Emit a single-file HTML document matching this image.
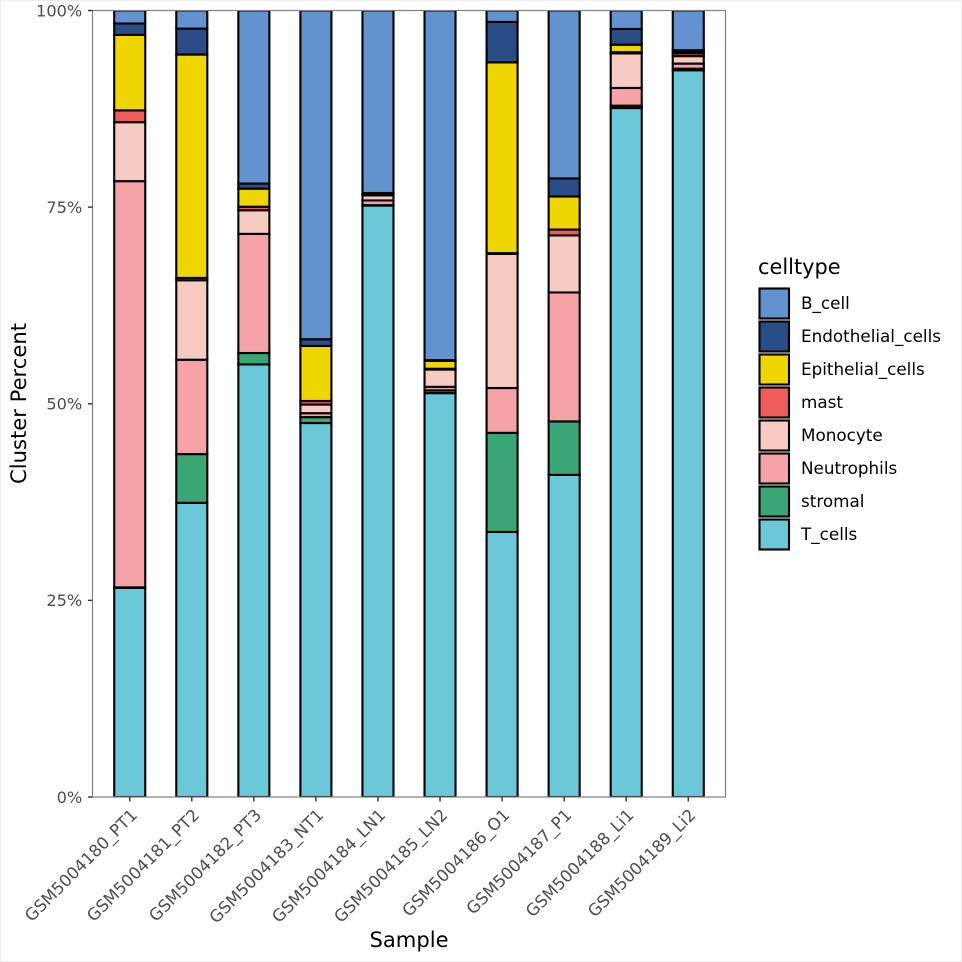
<!DOCTYPE html>
<html lang="en">
<head>
<meta charset="utf-8">
<title>Cluster percent by sample</title>
<style>
html,body{margin:0;padding:0;background:#fff;width:962px;height:962px;overflow:hidden}
svg{display:block;font-family:"DejaVu Sans",sans-serif}
</style>
</head>
<body>
<svg id="chart" xmlns="http://www.w3.org/2000/svg" width="962" height="962" viewBox="0 0 962 962">
  <defs><clipPath id="panel-clip"><rect x="92.5" y="10.5" width="633" height="786.5"/></clipPath></defs>
  <rect x="0.5" y="0.5" width="961" height="961" fill="#fff" stroke="#ececec" stroke-width="1"/>
  <rect x="92.5" y="10.5" width="633" height="786.5" fill="#fff"/>
  <g id="bars" clip-path="url(#panel-clip)"></g>
  <rect x="92.5" y="10.5" width="633" height="786.5" fill="none" stroke="#7f7f7f" stroke-width="1.2"/>
  <g id="yaxis"></g>
  <g id="xaxis"></g>
  <text x="409" y="947" font-size="21.1" text-anchor="middle" fill="#000">Sample</text>
  <text transform="translate(26 403.5) rotate(-90)" font-size="21.1" text-anchor="middle" fill="#000">Cluster Percent</text>
  <g id="legend">
    <text x="758" y="274" font-size="20.9" fill="#000">celltype</text>
  </g>
</svg>
<script>
const samples = ["GSM5004180_PT1","GSM5004181_PT2","GSM5004182_PT3","GSM5004183_NT1","GSM5004184_LN1","GSM5004185_LN2","GSM5004186_O1","GSM5004187_P1","GSM5004188_Li1","GSM5004189_Li2"];
const yTickValues = [0,25,50,75,100];
const cellTypes = ["B_cell","Endothelial_cells","Epithelial_cells","mast","Monocyte","Neutrophils","stromal","T_cells"];
const cellColors = ["#6393CE","#2A4C87","#EFD600","#EF5A5B","#F7CBC2","#F5A3A6","#3AA675","#6BC8D9"];
const tCells = [26.6,37.4,55.0,47.55,75.2,51.35,33.7,40.95,87.6,92.4];
const stromal = [0.05,6.2,1.45,0.75,0.05,0.35,12.6,6.8,0.3,0.2];
const neutrophils = [51.65,12.0,15.15,0.5,0.6,0.45,5.7,16.4,2.25,0.65];
const monocyte = [7.5,10.1,3.0,1.1,0.65,2.2,17.05,7.25,4.4,0.95];
const mast = [1.5,0.3,0.45,0.45,0.1,0.1,0.1,0.75,0.15,0.35];
const epithelial = [9.6,28.4,2.3,7.0,0.05,1.0,24.25,4.2,0.95,0.25];
const endothelial = [1.45,3.3,0.65,0.85,0.15,0.1,5.15,2.3,2.0,0.15];
const bCell = [1.65,2.3,22.0,41.8,23.2,44.45,1.45,21.35,2.35,5.05];

const seriesValues = [bCell,endothelial,epithelial,mast,monocyte,neutrophils,stromal,tCells];
const SVG_NS = "http://www.w3.org/2000/svg";

function xScale(index){
  const left = 92.5, width = 633, count = samples.length;
  return left + (index + 0.6) * width / (count + 0.2);
}
function bandWidth(){
  return 0.5 * 633 / (samples.length + 0.2);
}
function yScale(pct){
  return 797 - pct * 7.865;
}
function make(tag, attrs){
  const el = document.createElementNS(SVG_NS, tag);
  for (const k in attrs) el.setAttribute(k, attrs[k]);
  return el;
}

const barsGroup = document.getElementById("bars");
samples.forEach(function(sample, i){
  const group = make("g", {});
  
  
  let cumulative = 0;
  for (let s = seriesValues.length - 1; s >= 0; s--) {
    const v = seriesValues[s][i];
    const y0 = yScale(cumulative);
    const y1 = yScale(cumulative + v);
    cumulative += v;
    const rect = make("rect", {
      x: xScale(i) - bandWidth() / 2,
      y: y1,
      width: bandWidth(),
      height: y0 - y1,
      fill: cellColors[s],
      stroke: "#000",
      "stroke-width": 2.1
    });
    
    
    group.appendChild(rect);
  }
  barsGroup.appendChild(group);
});

const yAxis = document.getElementById("yaxis");
yTickValues.forEach(function(t){
  const y = yScale(t);
  const tick = make("line", {x1: 88, x2: 92.5, y1: y, y2: y, stroke: "#333", "stroke-width": 1.4});
  
  
  yAxis.appendChild(tick);
  const label = make("text", {x: 82.3, y: y + 5.8, "text-anchor": "end", "font-size": 16.2, fill: "#4d4d4d"});
  
  
  label.textContent = t + "%";
  yAxis.appendChild(label);
});

const xAxis = document.getElementById("xaxis");
samples.forEach(function(sample, i){
  const x = xScale(i);
  const tick = make("line", {x1: x, x2: x, y1: 797, y2: 801.5, stroke: "#333", "stroke-width": 1.4});
  
  
  xAxis.appendChild(tick);
  const label = make("text", {
    transform: "translate(" + (x + 8.5) + " 816) rotate(-45)",
    "text-anchor": "end",
    "font-size": 16.6,
    fill: "#4d4d4d"
  });
  
  
  label.textContent = sample;
  xAxis.appendChild(label);
});

const legend = document.getElementById("legend");
cellTypes.forEach(function(name, i){
  const cy = 303.5 + i * 33;
  const entry = make("g", {});
  
  
  const key = make("rect", {x: 759.5, y: cy - 15, width: 29.5, height: 30, fill: cellColors[i], stroke: "#000", "stroke-width": 2.1});
  
  
  entry.appendChild(key);
  const label = make("text", {x: 801, y: cy + 5.5, "font-size": 16.8, fill: "#000"});
  
  
  label.textContent = name;
  entry.appendChild(label);
  legend.appendChild(entry);
});
</script>
</body>
</html>
